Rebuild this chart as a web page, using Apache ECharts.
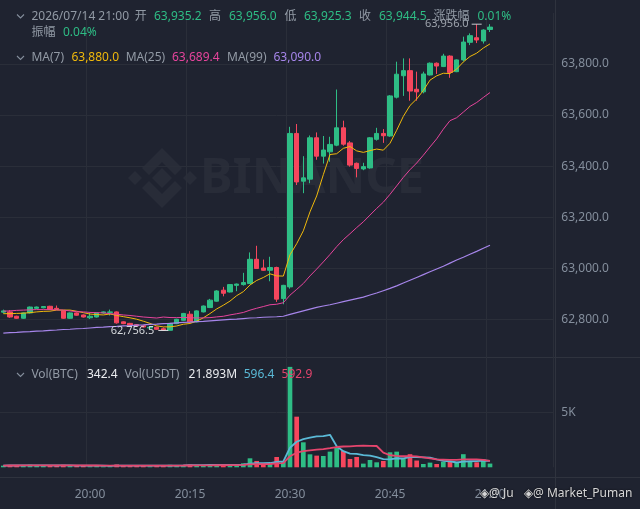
<!DOCTYPE html>
<html><head><meta charset="utf-8">
<script src="https://cdn.jsdelivr.net/npm/echarts@6/dist/echarts.min.js"></script>
<style>html,body{margin:0;padding:0;background:#1f2330;}#c{width:640px;height:509px;}</style>
</head><body><div id="c"></div>
<script>
// ---------- data ----------
const times = ['19:47','19:48','19:49','19:50','19:51','19:52','19:53','19:54','19:55','19:56','19:57','19:58','19:59',
'20:00','20:01','20:02','20:03','20:04','20:05','20:06','20:07','20:08','20:09','20:10','20:11','20:12','20:13','20:14',
'20:15','20:16','20:17','20:18','20:19','20:20','20:21','20:22','20:23','20:24','20:25','20:26','20:27','20:28','20:29',
'20:30','20:31','20:32','20:33','20:34','20:35','20:36','20:37','20:38','20:39','20:40','20:41','20:42','20:43','20:44',
'20:45','20:46','20:47','20:48','20:49','20:50','20:51','20:52','20:53','20:54','20:55','20:56','20:57','20:58','20:59','21:00'];
const futureSlots = ['21:01','21:02','21:03','21:04','21:05','21:06','21:07','21:08','21:09'];
const opens = [62828,62829,62812,62804,62825,62843,62845,62851,62843,62833,62804,62825,62817,62806,62809,62825,62827,62829,62790,62784,
62779,62775,62766,62769,62763,62757,62783,62796,62820,62790,62829,62846,62871,62914,62907,62933,62936,62940,63035,63001,
62992,63003,62881,62927,63528,63341,63349,63511,63439,63456,63482,63550,63491,63411,63389,63393,63505,63528,63518,63670,
63754,63774,63701,63691,63757,63803,63790,63831,63770,63816,63885,63903,63890,63935.2];
const closes = [62833,62809,62804,62825,62848,62848,62850,62839,62839,62804,62825,62816,62809,62812,62825,62829,62829,62786,62783,62777,
62774,62770,62769,62761,62758,62784,62800,62823,62790,62833,62852,62875,62911,62902,62936,62938,62944,63035,62999,62992,
63003,62879,62933,63528,63338,63354,63511,63439,63463,63485,63550,63486,63404,63391,63398,63511,63528,63519,63675,63760,
63774,63694,63691,63761,63803,63792,63831,63767,63816,63886,63911,63894,63933,63944.5];
const lows = [62823,62806,62802,62802,62823,62841,62843,62837,62836,62802,62802,62814,62807,62801,62807,62822,62815,62783,62781,62775,
62772,62768,62764,62759,62756.5,62757,62781,62794,62788,62788,62827,62844,62869,62890,62905,62910,62932,62938,62997,62990,
62949,62868,62859,62920,63326,63294,63333,63425,63410,63417,63478,63480,63398,63356,63384,63390,63500,63491,63515,63665,
63675,63656,63656,63685,63755,63761,63788,63746,63768,63810,63874,63882,63880,63925.3];
const highs = [62838,62836,62814,62827,62850,62850,62852,62853,62854,62835,62827,62827,62819,62825,62827,62831,62838,62831,62792,62786,
62781,62777,62771,62771,62768,62786,62802,62825,62832,62835,62854,62880,62914,62927,62938,62940,62982,63062,63088,63034,
63045,63006,62935,63554,63565,63439,63520,63532,63518,63515,63700,63578,63498,63414,63413,63514,63550,63545,63678,63809,
63822,63822,63770,63770,63806,63806,63840,63834,63818,63907,63920,63956,63936,63956.0];
const volumes = [150,210,130,180,240,160,120,190,140,230,170,120,150,110,140,100,130,260,180,140,
120,150,110,160,190,230,170,200,260,210,180,230,260,170,220,270,366,824,580,213,
275,945,520,9196,4636,2288,1190,1068,1037,1434,1800,1495,763,945,336,671,458,580,1373,1434,
800,1200,620,305,427,305,500,519,398,1200,519,458,740,342.4];
const ma7Head = [62822,62822,62823,62824,62826,62829];
const ma25Head = [62832,62833,62835,62836,62837,62838,62838,62838,62837,62836,62833,62830,62829,62827,62826,62825,62822,62820,62817,62815,62812,62809,62807,62805];
const ma99 = [62746,62748,62749,62751,62752,62754,62755,62757,62758,62760,62761,62763,62764,62766,62768,62769,62771,62772,62774,62775,
62777,62778,62780,62781,62783,62784,62786,62788,62789,62791,62792,62794,62796,62798,62800,62801,62803,62805,62806,62808,
62809,62810,62812,62819,62826,62833,62840,62847,62852,62857,62863,62869,62875,62881,62887,62895,62903,62912,62921,62931,
62942,62953,62964,62975,62986,62997,63008,63020,63032,63043,63055,63066,63078,63090];
// header texts
const headerTime = '2026/07/14 21:00';
const ohlcLabels = ['开','高','低','收'];
const ohlcTexts = ['63,935.2','63,956.0','63,925.3','63,944.5'];
const changeLabel = '涨跌幅', changeText = '0.01%';
const ampLabel = '振幅', ampText = '0.04%';
const maLabels = ['MA(7)','MA(25)','MA(99)'];
const maTexts = ['63,880.0','63,689.4','63,090.0'];
const volLabels = ['Vol(BTC)','Vol(USDT)'];
const volTexts = ['342.4','21.893M'];
const volMaTexts = ['596.4','592.9'];
const watermarkText = 'BINANCE';
const creditTexts = ['◈@ Ju','◈@ Market_Puman'];

// ---------- styling ----------
const UP='#2ebd85', DOWN='#f6465d', GREY='#929aa5', AXIS='#848e9c', GRID='#2a2e39', SEP='#2f333e';
const C_MA7='#f0b90b', C_MA25='#e6449c', C_MA99='#a685ea', C_VMA1='#5ab9d6', C_VMA2='#e5456d';
const FONT="'Noto Sans','Noto Sans CJK SC',sans-serif";

const n = times.length;
const cats = times.concat(futureSlots);
const candles = opens.map((o,i)=>[o, closes[i], lows[i], highs[i]]);
function ma(period, head){
  const out=[];
  for(let i=0;i<n;i++){
    if(i<head.length){ out.push(head[i]); continue; }
    let s=0; for(let k=i-period+1;k<=i;k++) s+=closes[k];
    out.push(+(s/period).toFixed(2));
  }
  return out;
}
function volMa(p){
  return volumes.map((v,i)=>{ const s=Math.max(0,i-p+1); let sum=0; for(let k=s;k<=i;k++) sum+=volumes[k]; return +(sum/(i-s+1)).toFixed(1); });
}
const fmt = v => Number(v).toLocaleString('en-US',{minimumFractionDigits:1,maximumFractionDigits:1});
let maxI=0, minI=0;
highs.forEach((h,i)=>{ if(h>highs[maxI]) maxI=i; });
lows.forEach((l,i)=>{ if(l<lows[minI]) minI=i; });

const showTime = (idx, val) => idx < n && /:(00|15|30|45)$/.test(val);

function txt(x,y,text,fill,size,extra){
  return {type:'text', x, y, z:100, silent:true,
    style:Object.assign({text, fill, fontSize:size||12, fontFamily:FONT, verticalAlign:'middle', align:'left'}, extra||{})};
}
function chev(y){
  return {type:'polyline', z:100, silent:true, shape:{points:[[17,y-2],[20.5,y+1.5],[24,y-2]]}, style:{stroke:AXIS, lineWidth:1.1, fill:null}};
}
const WM='rgba(255,255,255,0.045)';
const CR='rgba(235,235,235,0.9)';
const graphics = [
  // watermark logo + word
  {type:'polygon', silent:true, shape:{points:[[162,168],[172,178],[162,188],[152,178]]}, style:{fill:WM}},
  {type:'polygon', silent:true, shape:{points:[[135,171],[142,178],[135,185],[128,178]]}, style:{fill:WM}},
  {type:'polygon', silent:true, shape:{points:[[190,171],[197,178],[190,185],[183,178]]}, style:{fill:WM}},
  {type:'polygon', silent:true, shape:{points:[[162,148],[182,168],[175,175],[162,162],[149,175],[142,168]]}, style:{fill:WM}},
  {type:'polygon', silent:true, shape:{points:[[162,208],[182,188],[175,181],[162,194],[149,181],[142,188]]}, style:{fill:WM}},
  {type:'text', silent:true, x:200, y:179, style:{text:watermarkText, fill:WM, fontSize:49, fontWeight:'bold', fontFamily:FONT, verticalAlign:'middle'}},
  // separators
  {type:'line', silent:true, shape:{x1:0,y1:357.5,x2:640,y2:357.5}, style:{stroke:SEP, lineWidth:1}},
  {type:'line', silent:true, shape:{x1:0,y1:477.5,x2:640,y2:477.5}, style:{stroke:SEP, lineWidth:1}},
  {type:'line', silent:true, shape:{x1:555.5,y1:0,x2:555.5,y2:509}, style:{stroke:SEP, lineWidth:1}},
  // header row 1
  chev(16.5),
  txt(31.4,16.7,headerTime,GREY),
  txt(134.7,16.7,ohlcLabels[0],GREY), txt(154,16.7,ohlcTexts[0],UP),
  txt(209,16.7,ohlcLabels[1],GREY), txt(229,16.7,ohlcTexts[1],UP),
  txt(284.5,16.7,ohlcLabels[2],GREY), txt(304,16.7,ohlcTexts[2],UP),
  txt(359,16.7,ohlcLabels[3],GREY), txt(379,16.7,ohlcTexts[3],UP),
  txt(433.5,16.7,changeLabel,GREY), txt(477.5,16.7,changeText,UP),
  // row 2
  txt(31.4,32.7,ampLabel,GREY), txt(63,32.7,ampText,UP),
  // MA row
  chev(58),
  txt(31.4,58,maLabels[0],GREY), txt(71.4,58,maTexts[0],C_MA7),
  txt(125.7,58,maLabels[1],GREY), txt(172,58,maTexts[1],C_MA25),
  txt(227,58,maLabels[2],GREY), txt(273.5,58,maTexts[2],C_MA99),
  // volume legend
  chev(375),
  txt(31.4,375,volLabels[0],GREY), txt(87,375,volTexts[0],'#eaecef'),
  txt(124.5,375,volLabels[1],GREY), txt(188.6,375,volTexts[1],'#eaecef'),
  txt(243.7,375,volMaTexts[0],C_VMA1), txt(281.6,375,volMaTexts[1],C_VMA2),
  // credit overlay
  txt(480,493.5,creditTexts[0],CR,12,{textShadowColor:'#000',textShadowBlur:2}),
  txt(524,493.5,creditTexts[1],CR,12,{textShadowColor:'#000',textShadowBlur:2})
];

const PX = 0.2553; // px per price unit
const gridW = 553.33;
const option = {
  backgroundColor:'#1f2330',
  animation:false,
  textStyle:{fontFamily:FONT},
  grid:[
    {left:0, width:gridW, top:64-(64000-63800)*PX, height:1400*PX},
    {left:0, width:gridW, top:362, height:105.3}
  ],
  xAxis:[
    {type:'category', gridIndex:0, data:cats, boundaryGap:true,
     axisLine:{show:false}, axisTick:{show:false}, axisLabel:{show:false},
     splitLine:{show:true, interval:showTime, lineStyle:{color:GRID, width:1}}},
    {type:'category', gridIndex:1, data:cats, boundaryGap:true,
     axisLine:{show:false}, axisTick:{show:false},
     axisLabel:{show:true, interval:showTime, color:AXIS, fontSize:12, fontFamily:FONT, margin:21},
     splitLine:{show:true, interval:showTime, lineStyle:{color:GRID, width:1}}}
  ],
  yAxis:[
    {type:'value', gridIndex:0, position:'right', offset:2, min:62600, max:64000, interval:200, scale:true,
     axisLine:{show:false}, axisTick:{show:false},
     axisLabel:{color:AXIS, fontSize:12, fontFamily:FONT, margin:6, showMinLabel:false, showMaxLabel:false, formatter:v=>fmt(v)},
     splitLine:{show:true, showMinLine:false, showMaxLine:false, lineStyle:{color:GRID, width:1}}},
    {type:'value', gridIndex:1, position:'right', offset:2, min:0, max:9643, interval:5000,
     axisLine:{show:false}, axisTick:{show:false},
     axisLabel:{color:AXIS, fontSize:12, fontFamily:FONT, margin:6, showMinLabel:false, showMaxLabel:false, formatter:v=> v===5000?'5K':''},
     splitLine:{show:true, showMinLine:false, showMaxLine:false, lineStyle:{color:GRID, width:1}}}
  ],
  series:[
    {type:'candlestick', name:'K', xAxisIndex:0, yAxisIndex:0, data:candles, barWidth:'70%',
     itemStyle:{color:UP, color0:DOWN, borderColor:UP, borderColor0:DOWN, borderWidth:1},
     markPoint:{animation:false, silent:true, symbol:'rect', symbolSize:[10,1],
       data:[
         {coord:[cats[maxI], highs[maxI]], itemStyle:{color:'#c8ccd2'},
          label:{show:true, position:'left', distance:3, formatter:fmt(highs[maxI]), color:'#9ea4ad', fontSize:11, fontFamily:FONT}},
         {coord:[cats[minI], lows[minI]], itemStyle:{color:'#e6e8ea'},
          label:{show:true, position:'left', distance:4, formatter:fmt(lows[minI]), color:'#d5d8dc', fontSize:11, fontFamily:FONT}}
       ]},
     markLine:{animation:false, silent:true, symbol:['none','none'],
       data:[{yAxis:closes[n-1]}],
       lineStyle:{opacity:0},
       label:{show:true, position:'end', distance:3, formatter:fmt(closes[n-1]), color:'#ffffff',
              backgroundColor:UP, padding:[4,7,3,7], borderRadius:3, fontSize:12, fontFamily:FONT}}
    },
    {type:'line', name:'MA7', xAxisIndex:0, yAxisIndex:0, data:ma(7,ma7Head), symbol:'none', lineStyle:{color:C_MA7, width:1}},
    {type:'line', name:'MA25', xAxisIndex:0, yAxisIndex:0, data:ma(25,ma25Head), symbol:'none', lineStyle:{color:C_MA25, width:1}},
    {type:'line', name:'MA99', xAxisIndex:0, yAxisIndex:0, data:ma99, symbol:'none', lineStyle:{color:C_MA99, width:1.2}},
    {type:'bar', name:'Vol', xAxisIndex:1, yAxisIndex:1, barWidth:'70%',
     data:volumes.map((v,i)=>({value:v, itemStyle:{color: closes[i]>=opens[i]?UP:DOWN}}))},
    {type:'line', name:'VMA7', xAxisIndex:1, yAxisIndex:1, data:volMa(7), symbol:'none', lineStyle:{color:C_VMA1, width:1.8}},
    {type:'line', name:'VMA14', xAxisIndex:1, yAxisIndex:1, data:volMa(14), symbol:'none', lineStyle:{color:C_VMA2, width:1.8}}
  ],
  graphic: graphics
};
const chart = echarts.init(document.getElementById('c'));
chart.setOption(option);
</script>
</body></html>
